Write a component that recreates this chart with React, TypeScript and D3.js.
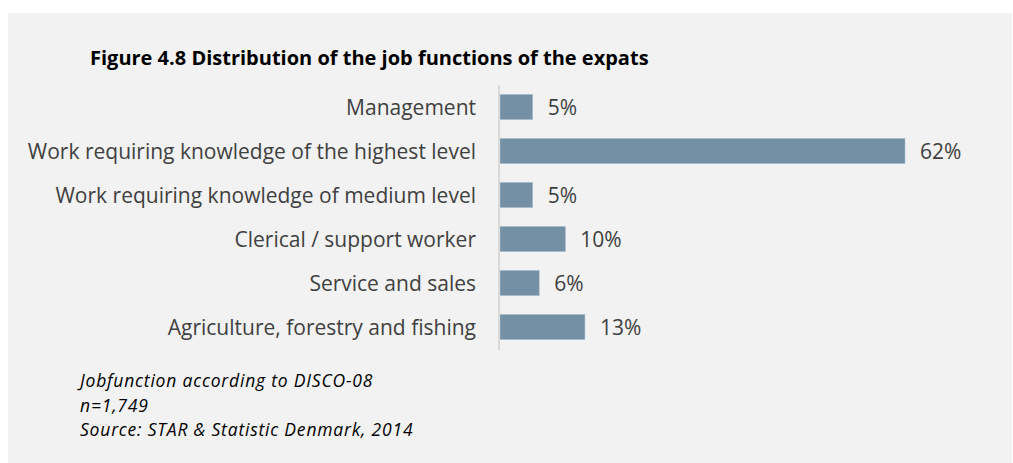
import React, { useEffect, useRef } from 'react';
import * as d3 from 'd3';

const categories = [
  'Management',
  'Work requiring knowledge of the highest level',
  'Work requiring knowledge of medium level',
  'Clerical / support worker',
  'Service and sales',
  'Agriculture, forestry and fishing',
];
const shares = [5, 62, 5, 10, 6, 13];
const notes = [
  'Jobfunction according to DISCO-08',
  'n=1,749',
  'Source: STAR & Statistic Denmark, 2014',
];

const W = 1013;
const H = 463;

const App: React.FC = () => {
  const svgRef = useRef<SVGSVGElement>(null);

  useEffect(() => {
    if (!svgRef.current) return;
    const svg = d3.select(svgRef.current);
    svg.selectAll('*').remove();

    // panel background
    svg.append('rect')
      .attr('x', 8).attr('y', 13)
      .attr('width', W - 9).attr('height', H - 13)
      .attr('fill', '#f2f2f2');

    svg.append('text')
      .attr('x', 90).attr('y', 65)
      .attr('font-family', 'Open Sans, sans-serif')
      .attr('font-size', '20px')
      .attr('font-weight', 'bold')
      .attr('fill', '#000')
      .text('Figure 4.8 Distribution of the job functions of the expats');

    const x = d3.scaleLinear().domain([0, 62]).range([500, 905]);
    const y = d3.scaleBand<string>()
      .domain(categories)
      .range([85, 349])
      .paddingInner(0.43)
      .paddingOuter(0.215);

    const rows = svg.append('g');
    categories.forEach((c, i) => {
      const yc = (y(c) as number) + y.bandwidth() / 2 + 1;
      rows.append('rect')
        .attr('x', x(0))
        .attr('y', y(c) as number)
        .attr('width', x(shares[i]) - x(0))
        .attr('height', y.bandwidth())
        .attr('fill', '#7390a4')
        .attr('stroke', '#a9bccb')
        .attr('stroke-width', 0.6);
      rows.append('text')
        .attr('x', 476).attr('y', yc)
        .attr('dy', '0.35em')
        .attr('text-anchor', 'end')
        .attr('font-family', 'Open Sans, sans-serif')
        .attr('font-size', '21px')
        .attr('fill', '#404040')
        .text(c);
      rows.append('text')
        .attr('x', x(shares[i]) + 15).attr('y', yc)
        .attr('dy', '0.35em')
        .attr('font-family', 'Open Sans, sans-serif')
        .attr('font-size', '21px')
        .attr('fill', '#404040')
        .text(`${shares[i]}%`);
    });

    // vertical axis line
    svg.append('line')
      .attr('x1', 499).attr('x2', 499)
      .attr('y1', 85).attr('y2', 350)
      .attr('stroke', '#d9d9d9')
      .attr('stroke-width', 2);

    notes.forEach((n, i) => {
      svg.append('text')
        .attr('x', 80).attr('y', 387 + i * 24.5)
        .attr('font-family', 'Open Sans, sans-serif')
        .attr('font-size', '17.5px')
        .attr('letter-spacing', '0.8px')
        .attr('font-style', 'italic')
        .attr('fill', '#000')
        .text(n);
    });
  }, []);

  return (
    <svg
      ref={svgRef}
      width={W}
      height={H}
      style={{ position: 'absolute', left: 0, top: 0, display: 'block', background: '#fff' }}
    />
  );
};

export default App;
